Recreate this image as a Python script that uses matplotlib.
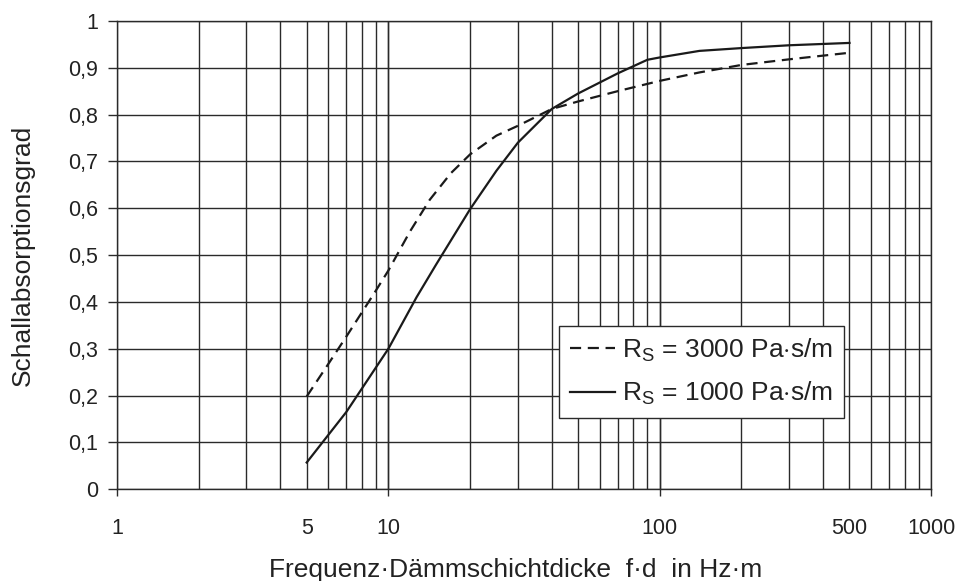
import matplotlib.pyplot as plt
from matplotlib.ticker import FixedLocator, FixedFormatter

plt.rcParams["font.family"] = ["Liberation Sans", "DejaVu Sans"]
plt.rcParams["mathtext.fontset"] = "custom"
plt.rcParams["mathtext.rm"] = "Liberation Sans"

# R_S = 3000 Pa s/m (dashed)
fd_3000 = [5, 6, 7, 8.9, 10, 12, 14.2, 17, 20, 25, 30, 40, 50, 70, 100, 140, 200, 300, 500]
alpha_3000 = [0.198, 0.267, 0.326, 0.42, 0.467, 0.55, 0.618, 0.675, 0.715, 0.755, 0.776, 0.812, 0.828, 0.85, 0.872, 0.89, 0.906, 0.918, 0.932]

# R_S = 1000 Pa s/m (solid)
fd_1000 = [5, 7, 10, 12.7, 15, 20, 25, 30, 40, 50, 70, 90, 100, 140, 200, 300, 500]
alpha_1000 = [0.057, 0.165, 0.30, 0.41, 0.48, 0.598, 0.68, 0.74, 0.812, 0.845, 0.888, 0.917, 0.922, 0.936, 0.942, 0.948, 0.953]

xtick_major = [1, 10, 100, 1000]
xtick_major_labels = ["1", "10", "100", "1000"]
xtick_minor = [5, 500]
xtick_minor_labels = ["5", "500"]
ytick_vals = [0, 0.1, 0.2, 0.3, 0.4, 0.5, 0.6, 0.7, 0.8, 0.9, 1.0]
ytick_labels = ["0", "0,1", "0,2", "0,3", "0,4", "0,5", "0,6", "0,7", "0,8", "0,9", "1"]

fig = plt.figure(figsize=(9.59, 5.81), dpi=100)
ax = fig.add_axes([0.122, 0.158, 0.849, 0.806])

gc = "#2a2a2a"
tc = "#222222"
# log grid: every integer multiple in each decade
for dec in [1, 10, 100]:
    for m in range(1, 11):
        ax.axvline(dec * m, color=gc, lw=1.0, zorder=1)
for yv in ytick_vals:
    ax.axhline(yv, color=gc, lw=1.0, zorder=1)

ax.plot(fd_3000, alpha_3000, color="#1a1a1a", lw=1.6, ls=(0, (5, 3)),
        label=r"R$_\mathrm{S}$ = 3000 Pa$\cdot$s/m", zorder=3)
ax.plot(fd_1000, alpha_1000, color="#1a1a1a", lw=1.6, ls="-",
        label=r"R$_\mathrm{S}$ = 1000 Pa$\cdot$s/m", zorder=3)

ax.set_xscale("log")
ax.set_xlim(1, 1000)
ax.set_ylim(0, 1)

ax.xaxis.set_major_locator(FixedLocator(xtick_major))
ax.xaxis.set_major_formatter(FixedFormatter(xtick_major_labels))
ax.xaxis.set_minor_locator(FixedLocator(xtick_minor))
ax.xaxis.set_minor_formatter(FixedFormatter(xtick_minor_labels))
ax.yaxis.set_major_locator(FixedLocator(ytick_vals))
ax.yaxis.set_major_formatter(FixedFormatter(ytick_labels))

ax.tick_params(axis="x", which="major", length=5, width=1, color=gc, pad=16,
               labelsize=15.5, labelcolor=tc)
ax.tick_params(axis="x", which="minor", length=0, pad=21, labelsize=15.5, labelcolor=tc)
ax.tick_params(axis="y", length=6.5, width=1, color=gc, pad=7,
               labelsize=15.5, labelcolor=tc)
for s in ax.spines.values():
    s.set_color(gc)
    s.set_linewidth(1.0)

ax.set_xlabel("Frequenz·Dämmschichtdicke  f·d  in Hz·m", fontsize=19, color=tc)
ax.set_ylabel("Schallabsorptionsgrad", fontsize=19, color=tc)
ax.xaxis.set_label_coords(0.489, -0.146)
ax.yaxis.set_label_coords(-0.101, 0.5)

leg = ax.legend(loc="lower left", bbox_to_anchor=(0.543, 0.152), fontsize=19,
                frameon=True, fancybox=False, framealpha=1, edgecolor=gc,
                handlelength=1.7, handletextpad=0.3, borderpad=0.4,
                labelspacing=0.6, borderaxespad=0)
leg.get_frame().set_linewidth(1.0)
for t in leg.get_texts():
    t.set_color(tc)

fig.savefig("out.png", dpi=100)
